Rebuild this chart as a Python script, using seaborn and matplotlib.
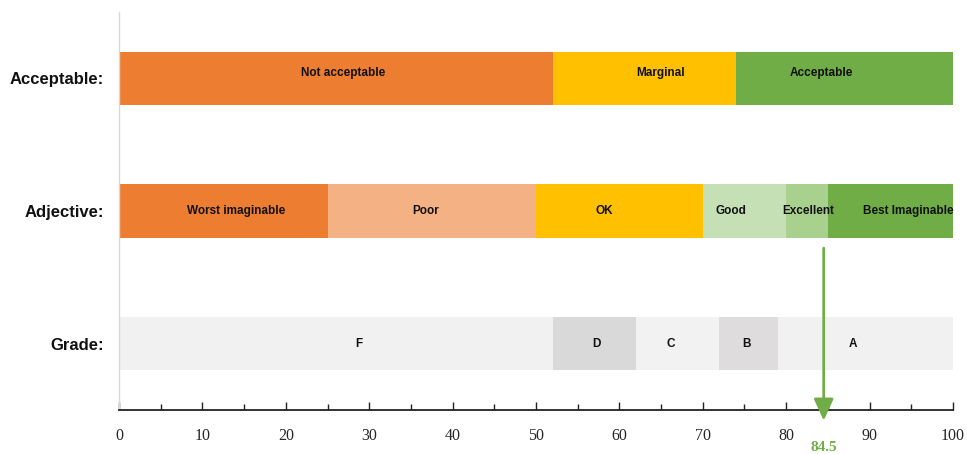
import matplotlib
matplotlib.use("Agg")
import matplotlib.pyplot as plt
import seaborn as sns
import pandas as pd

# ---- data ----
rows = ["Acceptable:", "Adjective:", "Grade:"]

acc_labels = ["Not acceptable", "Marginal", "Acceptable"]
acc_edges = [52, 74, 100]
acc_colors = ["#ED7D31", "#FFC000", "#70AD47"]
acc_text_x = [26.9, 64.9, 84.2]

adj_labels = ["Worst imaginable", "Poor", "OK", "Good", "Excellent", "Best Imaginable"]
adj_edges = [25, 50, 70, 80, 85, 100]
adj_colors = ["#ED7D31", "#F4B183", "#FFC000", "#C5E0B4", "#A9D18E", "#70AD47"]
adj_text_x = [14.0, 36.8, 58.2, 73.4, 82.6, 94.6]

grade_labels = ["F", "D", "C", "B", "A"]
grade_edges = [52, 62, 72, 79, 100]
grade_colors = ["#F1F1F1", "#D9D9D9", "#F2F2F2", "#DEDCDC", "#F1F1F1"]
grade_text_x = [28.7, 57.2, 66.1, 75.3, 88.0]

score = 84.5
x_ticks = [0, 10, 20, 30, 40, 50, 60, 70, 80, 90, 100]

sns.set_theme(style="white")

fig = plt.figure(figsize=(9.67, 4.54), dpi=100)
ax = fig.add_axes([0.1231, 0.0969, 0.8624, 0.8767])

groups = [
    (rows[0], acc_labels, acc_edges, acc_colors, acc_text_x, -0.04),
    (rows[1], adj_labels, adj_edges, adj_colors, adj_text_x, 0.0),
    (rows[2], grade_labels, grade_edges, grade_colors, grade_text_x, 0.0),
]

for row, labels, edges, colors, tx, dy in groups:
    # draw cumulative bars from largest to smallest so they stack visually
    for lab, end, col in reversed(list(zip(labels, edges, colors))):
        df = pd.DataFrame({"row": [row], "end": [end]})
        sns.barplot(data=df, x="end", y="row", order=rows, orient="h",
                    color=col, saturation=1, width=0.4, linewidth=0, ax=ax)
    yi = rows.index(row)
    for lab, x in zip(labels, tx):
        ax.text(x, yi + dy, lab, ha="center", va="center",
                fontsize=8.5, fontweight="bold", color="#111111",
                family="Liberation Sans")

ax.set_xlim(0, 100)
ax.set_ylim(2.5, -0.5)
ax.set_xlabel("")
ax.set_ylabel("")

ax.set_xticks(x_ticks)
ax.set_xticklabels([str(t) for t in x_ticks], family="Liberation Serif", fontsize=11.5)
ax.set_xticks(range(5, 100, 10), minor=True)
ax.tick_params(axis="x", which="major", direction="in", length=6, width=1,
               color="#222222", pad=13, bottom=True)
ax.tick_params(axis="x", which="minor", direction="in", length=4, width=1,
               color="#222222", bottom=True)
ax.tick_params(axis="y", length=0, pad=11)
for t in ax.get_yticklabels():
    t.set_fontsize(12)
    t.set_fontweight("bold")
    t.set_family("Liberation Sans")
    t.set_color("#111111")

for s in ["top", "right"]:
    ax.spines[s].set_visible(False)
ax.spines["left"].set_color("#D9D9D9")
ax.spines["left"].set_linewidth(1)
ax.spines["bottom"].set_color("#222222")
ax.spines["bottom"].set_linewidth(1.3)

green = "#70AD47"
ax.annotate("", xy=(score, 2.58), xytext=(score, 1.28),
            arrowprops=dict(arrowstyle="-|>,head_width=0.5,head_length=1.1",
                            color=green, lw=2, shrinkA=0, shrinkB=0),
            annotation_clip=False)
ax.text(score, 2.78, f"{score}", ha="center", va="center", color=green,
        fontsize=11, fontweight="bold", family="Liberation Serif", clip_on=False)

fig.savefig("out.png", dpi=100)
